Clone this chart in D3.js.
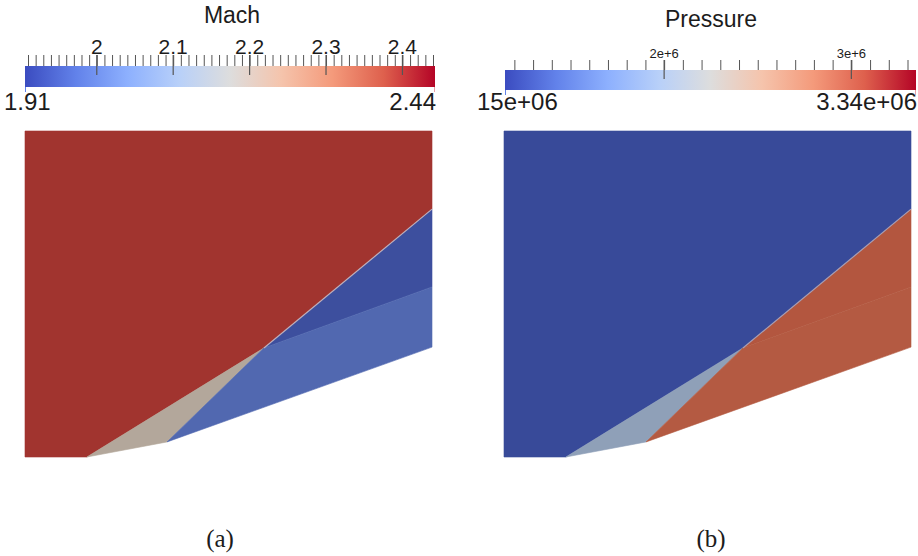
<!DOCTYPE html>
<html>
<head>
<meta charset="utf-8">
<script src="https://cdn.jsdelivr.net/npm/d3@7"></script>
<style>
	body{margin:0;background:#fff;}
	svg{display:block;}
	text{font-family:"Liberation Sans",Arial,sans-serif;fill:#1c1c1c;}
	.cap{font-family:"Liberation Serif","Times New Roman",serif;}
</style>
</head>
<body>
<svg width="918" height="556"></svg>
<script>
(()=>{

//colormap: paraview cool to warm
let coolwarm = ["#3b4cc0","#6282ea","#8db0fe","#b8d0f9","#dddddd","#f5c4ac","#f49a7b","#de604d","#b40426"];

//domain geometry (x: 0..1, y: 0..0.801), wedge + shock corners
let pts = {
	A:[0,0], B:[0.152,0], C:[0.349,0.037], D:[1,0.270],
	E:[1,0.801], F:[0,0.801], R:[0.587,0.268], S:[1,0.609], T:[1,0.418]
};
let regions = [
	{id:"free",  poly:["F","A","B","R","S","E"]},
	{id:"shock1",poly:["B","R","C"]},
	{id:"fanTop",poly:["R","S","T"]},
	{id:"fanLow",poly:["R","T","D","C"]}
];
let shockLine = ["R","S"];

//field values per region
let machValues = {free:2.44, shock1:2.2, fanTop:1.92, fanLow:1.97};
let pressureValues = {free:1.15e6, shock1:2.05e6, fanTop:3.3e6, fanLow:3.28e6};

//colorbar ranges and labels
let machRange = [1.91, 2.44];
let machTicks = [2, 2.1, 2.2, 2.3, 2.4];
let machTickLabels = ["2","2.1","2.2","2.3","2.4"];
let machEnds = ["1.91","2.44"];
let pressureRange = [1.15e6, 3.34e6];
let pressureTicks = [2e6, 3e6];
let pressureTickLabels = ["2e+6","3e+6"];
let pressureEnds = ["15e+06","3.34e+06"];
let captions = ["(a)","(b)"];

let svg = d3.select("svg");
let defs = svg.append("defs");

//gradient for colorbars
let grad = defs.append("linearGradient").attr("id","cw");
coolwarm.forEach((c,i)=>{
	grad.append("stop").attr("offset",(i/(coolwarm.length-1)*100)+"%").attr("stop-color",c);
});

//rendered (lit) colors of the surfaces, paraview dims them
let litMach = {free:"#a1342f", shock1:"#b3a79b", fanTop:"#3d4f9e", fanLow:"#5168b0"};
let litPressure = {free:"#384a99", shock1:"#8fa0b8", fanTop:"#b3563f", fanLow:"#b45a42"};

function drawField(x0, values, lit, shockColor){
	let sx = d3.scaleLinear().domain([0,1]).range([x0, x0+407]);
	let sy = d3.scaleLinear().domain([0,0.801]).range([457,131]);
	let line = d3.line().x(d=>sx(pts[d][0])).y(d=>sy(pts[d][1]));
	let g = svg.append("g");
	g.selectAll(".cell")
		.data(regions)
		.enter().append("path")
		.attr("class","cell")
		.attr("d", d => line(d.poly)+"Z")
		.attr("fill", d => lit[d.id])
		.attr("stroke", d => lit[d.id])
		.attr("stroke-width",0.6)
		.attr("data-value", d => values[d.id]);
	g.append("path")
		.attr("d", line(shockLine))
		.attr("fill","none")
		.attr("stroke", shockColor)
		.attr("stroke-width",1.2)
		.attr("stroke-opacity",0.8);
}

function drawBar(o){
	let sc = d3.scaleLinear().domain(o.range).range(o.px);
	let g = svg.append("g");
	g.append("text")
		.attr("x",o.titleX).attr("y",o.titleY)
		.attr("text-anchor","middle")
		.style("font-size","23px")
		.text(o.title);
	g.append("rect")
		.attr("x",o.bx[0]).attr("y",o.by[0])
		.attr("width",o.bx[1]-o.bx[0]).attr("height",o.by[1]-o.by[0])
		.attr("fill","url(#cw)");
	//minor ticks above bar
	let ax = d3.axisTop(sc).tickValues(sc.ticks(o.minorCount)).tickSize(o.by[0]-o.tickTop).tickFormat("");
	let ag = g.append("g").attr("transform","translate(0,"+o.by[0]+")").call(ax);
	ag.select(".domain").remove();
	ag.selectAll("line").attr("stroke","#555").attr("stroke-width",1);
	//major ticks cross into bar
	g.selectAll(".major")
		.data(o.ticks)
		.enter().append("line")
		.attr("x1",d=>sc(d)).attr("x2",d=>sc(d))
		.attr("y1",o.tickTop).attr("y2",o.majorBottom)
		.attr("stroke","#555").attr("stroke-width",1.2);
	g.selectAll(".tl")
		.data(o.ticks)
		.enter().append("text")
		.attr("x",d=>sc(d)).attr("y",o.labelY)
		.attr("text-anchor","middle")
		.style("font-size",o.labelSize)
		.text((d,i)=>o.tickLabels[i]);
	//end markers
	g.append("line").attr("x1",o.bx[0]+0.5).attr("x2",o.bx[0]+0.5).attr("y1",o.by[1]).attr("y2",o.by[1]+5).attr("stroke",coolwarm[1]);
	g.append("line").attr("x1",o.bx[1]-0.5).attr("x2",o.bx[1]-0.5).attr("y1",o.by[1]).attr("y2",o.by[1]+5).attr("stroke","#e8a0a8");
	g.append("text").attr("x",o.endX[0]).attr("y",110).attr("text-anchor","start").style("font-size","24px").text(o.ends[0]);
	g.append("text").attr("x",o.endX[1]).attr("y",110).attr("text-anchor","end").style("font-size","24px").text(o.ends[1]);
}

drawBar({title:"Mach", titleX:232, titleY:23, range:machRange, px:[28,433], bx:[25,435], by:[66,87],
	tickTop:55, majorBottom:75, minorCount:53, ticks:machTicks, tickLabels:machTickLabels,
	labelY:54, labelSize:"21px", ends:machEnds, endX:[4,436]});
drawBar({title:"Pressure", titleX:711, titleY:27, range:pressureRange, px:[505,915], bx:[505,916], by:[70,90],
	tickTop:60, majorBottom:79, minorCount:22, ticks:pressureTicks, tickLabels:pressureTickLabels,
	labelY:58, labelSize:"13px", ends:pressureEnds, endX:[477,917]});

drawField(25, machValues, litMach, "#d9c6c4");
drawField(504, pressureValues, litPressure, "#a7aecb");

svg.selectAll(".cap")
	.data(captions)
	.enter().append("text")
	.attr("class","cap")
	.attr("x",(d,i)=>[220,711][i])
	.attr("y",547)
	.attr("text-anchor","middle")
	.style("font-size","25px")
	.text(d=>d);

})();
</script>
</body>
</html>
